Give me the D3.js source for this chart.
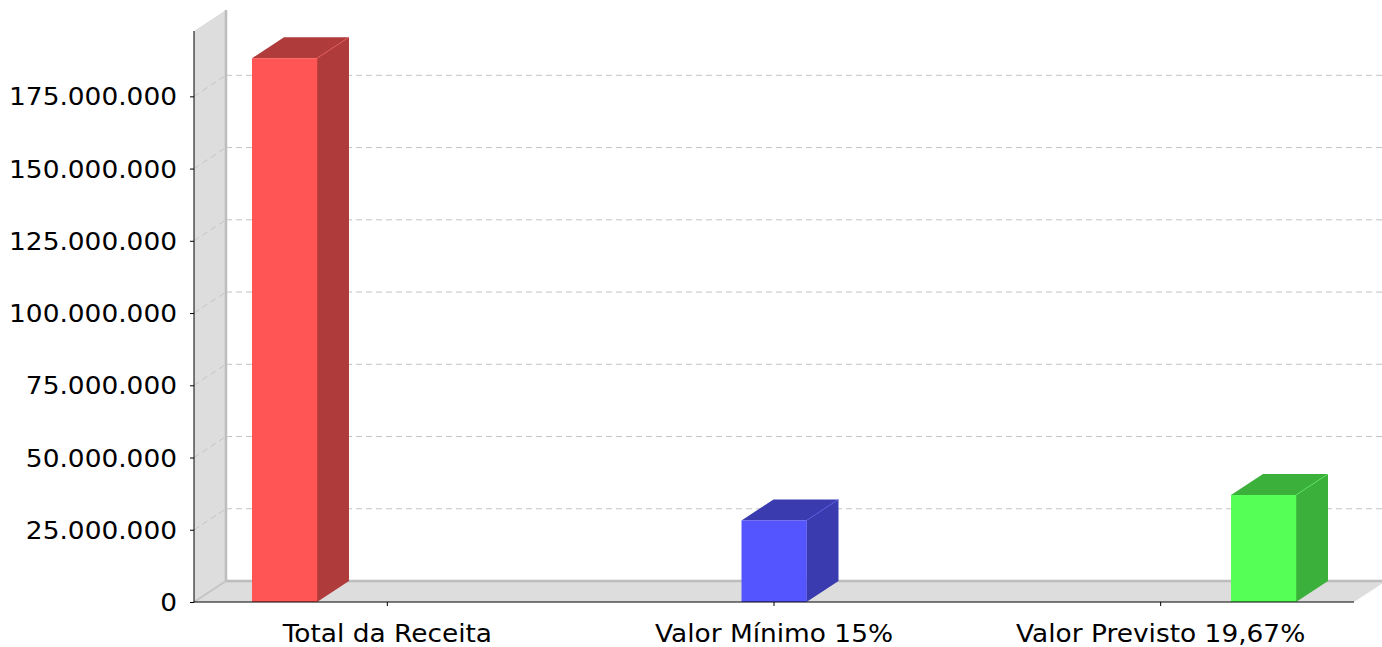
<!DOCTYPE html>
<html><head><meta charset="utf-8">
<script src="https://cdn.jsdelivr.net/npm/d3@7"></script>
<style>body{margin:0;background:#fff} svg{display:block}</style>
</head><body><svg id="c" width="1382" height="647"></svg>
<script>
const categories = ["Total da Receita", "Valor Mínimo 15%", "Valor Previsto 19,67%"];
const series = ["Total da Receita", "Valor Mínimo 15%", "Valor Previsto 19,67%"];
const values = [188200000, 28230000, 37019000];
const frontColors = ["#FF5555", "#5555FF", "#55FF55"];
const sideColors = ["#B03B3B", "#3B3BB0", "#3BB03B"];
const yTickValues = [0, 25000000, 50000000, 75000000, 100000000, 125000000, 150000000, 175000000];

const svg = d3.select("#c");
const L = 194, R = 1354, B = 602, T = 31, DX = 32, DY = 21;
const font = "DejaVu Sans";
const STRETCH = 1.1;
const FS = 24;

const y = d3.scaleLinear().domain([0, d3.max(values) * 1.05]).range([B, T]);
const x = d3.scaleBand().domain(categories).range([L, R]).paddingInner(0.3).paddingOuter(0.15);
const xs = d3.scaleBand().domain(series).range([0, x.bandwidth()]).paddingInner(0.368).paddingOuter(0);
const loc = d3.formatLocale({decimal: ",", thousands: ".", grouping: [3], currency: ["R$", ""]});
const fmt = loc.format(",d");

// back wall
svg.append("polygon")
  .attr("points", [[L, T], [L + DX, T - DY], [L + DX, B - DY], [L, B]].join(" "))
  .attr("fill", "#DDDDDD");
// floor
svg.append("polygon")
  .attr("points", [[L, B], [L + DX, B - DY], [R + DX, B - DY], [R, B]].join(" "))
  .attr("fill", "#DDDDDD");
// wall/floor edges
svg.append("line").attr("x1", L + DX).attr("x2", L + DX).attr("y1", T - DY).attr("y2", B - DY)
  .attr("stroke", "#BDBDBD").attr("stroke-width", 2.5);
svg.append("line").attr("x1", L + DX).attr("x2", R + DX).attr("y1", B - DY).attr("y2", B - DY)
  .attr("stroke", "#BDBDBD").attr("stroke-width", 2.5);
svg.append("line").attr("x1", L).attr("x2", L + DX).attr("y1", B).attr("y2", B - DY)
  .attr("stroke", "#C4C4C4").attr("stroke-width", 2);

// gridlines
const g = svg.append("g");
yTickValues.filter(v => v > 0).forEach(v => {
  g.append("line").attr("x1", L).attr("y1", y(v)).attr("x2", L + DX).attr("y2", y(v) - DY)
    .attr("stroke", "#C4C4C4").attr("stroke-width", 1).attr("stroke-dasharray", "6,4");
  g.append("line").attr("x1", L + DX).attr("y1", y(v) - DY).attr("x2", 1382).attr("y2", y(v) - DY)
    .attr("stroke", "#C4C4C4").attr("stroke-width", 1).attr("stroke-dasharray", "6,4");
});

// bars
values.forEach((v, i) => {
  const x0 = x(categories[i]) + xs(series[i]);
  const w = xs.bandwidth();
  const yt = y(v), yb = y(0);
  const bg = svg.append("g");
  bg.append("polygon")
    .attr("points", [[x0 + w, yt], [x0 + w + DX, yt - DY], [x0 + w + DX, yb - DY], [x0 + w, yb]].join(" "))
    .attr("fill", sideColors[i]);
  bg.append("polygon")
    .attr("points", [[x0, yt], [x0 + DX, yt - DY], [x0 + w + DX, yt - DY], [x0 + w, yt]].join(" "))
    .attr("fill", sideColors[i]);
  bg.append("rect").attr("x", x0).attr("y", yt).attr("width", w).attr("height", yb - yt)
    .attr("fill", frontColors[i]);
  bg.append("polyline")
    .attr("points", [[x0 + w, yb], [x0 + w, yt], [x0 + w + DX, yt - DY]].join(" "))
    .attr("fill", "none").attr("stroke", frontColors[i]).attr("stroke-opacity", 0.5).attr("stroke-width", 1);
});

function stretch(sel) {
  sel.each(function () {
    const w = this.getComputedTextLength();
    d3.select(this).attr("textLength", w * STRETCH).attr("lengthAdjust", "spacingAndGlyphs");
  });
}

// axes
const yAxis = d3.axisLeft(y).tickValues(yTickValues).tickFormat(fmt).tickSize(4).tickPadding(13);
const ya = svg.append("g").attr("transform", `translate(${L},0)`).call(yAxis);
ya.select(".domain").attr("d", `M0,${T}V${B}`).attr("stroke", "#000");
ya.selectAll("text").attr("font-family", font).attr("font-size", FS).attr("fill", "#000").attr("dy", "0.36em").call(stretch);

const xAxis = d3.axisBottom(x).tickSize(4).tickPadding(19);
const xa = svg.append("g").attr("transform", `translate(0,${B})`).call(xAxis);
xa.select(".domain").attr("d", `M${L},0H${R}`).attr("stroke", "#000");
xa.selectAll("text").attr("font-family", font).attr("font-size", FS).attr("fill", "#000").call(stretch);
</script></body></html>
